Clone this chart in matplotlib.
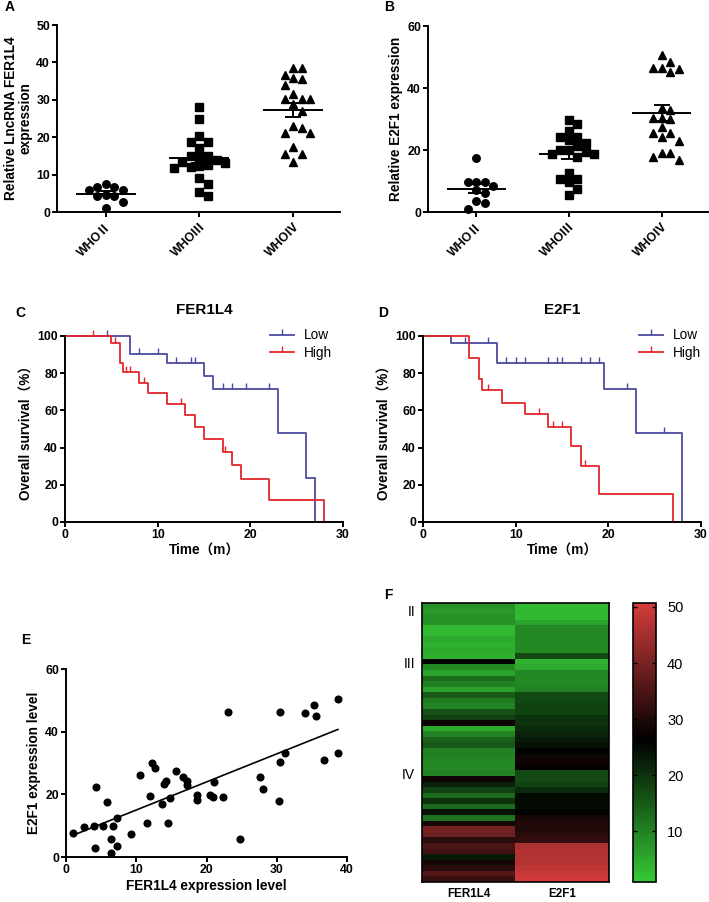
import numpy as np
import matplotlib
matplotlib.use('Agg')
import matplotlib.pyplot as plt
from matplotlib.colors import LinearSegmentedColormap
from matplotlib.lines import Line2D

plt.rcParams['font.family'] = ['Liberation Sans', 'Noto Sans CJK SC', 'DejaVu Sans']
plt.rcParams['axes.linewidth'] = 1.4

# ---- data -------------------------------------------------------------
groups = ['WHOⅡ', 'WHOⅢ', 'WHOⅣ']

fer_who2 = [6.6, 5.8, 7.4, 5.8, 6.6, 4.2, 4.6, 4.2, 1.0, 2.6]
fer_who3 = [28.2, 24.8, 20.4, 18.8, 18.8, 17.2, 15.0, 15.0, 14.5, 14.0,
            13.5, 13.0, 12.5, 12.2, 12.0, 11.8, 9.2, 7.4, 5.3, 4.2]
fer_who4 = [38.5, 38.5, 36.5, 35.7, 35.5, 34.0, 31.5, 30.3, 30.3, 30.3,
            29.0, 27.0, 23.0, 22.5, 21.0, 21.0, 17.5, 15.5, 15.5, 13.5]

e2f_who2 = [17.3, 9.8, 9.8, 9.6, 8.4, 7.0, 6.0, 3.5, 3.0, 0.9]
e2f_who3 = [29.8, 28.3, 26.1, 24.3, 24.3, 23.2, 22.4, 21.4, 20.0, 20.0,
            19.5, 18.7, 18.7, 17.8, 12.7, 10.8, 10.8, 9.8, 7.3, 5.5]
e2f_who4 = [50.5, 48.4, 46.5, 46.5, 46.0, 45.2, 33.4, 32.8, 30.4, 30.4,
            30.0, 27.5, 25.5, 25.5, 24.3, 23.0, 19.1, 19.1, 17.8, 16.7]

# Kaplan-Meier steps (time, survival %) and censor times
fer_low_t = [0, 7, 11, 15, 16, 23, 26, 27]
fer_low_s = [100, 90.5, 85.7, 78.5, 71.4, 47.6, 23.8, 0]
fer_low_c = [4.5, 8, 10, 12, 13.6, 14, 17, 18, 19.5, 22]
fer_high_t = [0, 5, 5.9, 6.3, 8, 9, 11, 13, 14, 15, 17, 18, 19, 22, 28]
fer_high_s = [100, 96, 85.3, 80.8, 74.6, 69.2, 63.3, 57.6, 51.0, 44.7,
              37.9, 30.4, 23.1, 11.6, 0]
fer_high_c = [3, 5.4, 6.6, 7, 8.5, 12.5, 17.3]

e2f_low_t = [0, 3, 8, 19.5, 23, 28]
e2f_low_s = [100, 96, 85.7, 71.4, 47.6, 0]
e2f_low_c = [4.5, 7, 9, 10, 11, 13.5, 14.5, 15, 17, 18, 19, 22, 26]
e2f_high_t = [0, 5, 6, 6.4, 8.5, 11, 13.5, 16, 17, 19, 27]
e2f_high_s = [100, 88.4, 76.7, 70.7, 64.2, 58.0, 51.0, 40.6, 30.2, 15.0, 0]
e2f_high_c = [7, 12.5, 14, 15, 17.5]

# FER1L4 vs E2F1 correlation
corr_fer = [0.95, 2.5, 4.0, 4.1, 4.3, 5.3, 5.9, 6.4, 6.4, 6.7, 7.3, 7.3, 9.2,
            10.5, 11.6, 12.0, 12.2, 12.7, 13.6, 13.9, 14.2, 14.5, 14.8, 15.6,
            16.6, 17.2, 17.2, 18.7, 18.7, 20.5, 20.9, 21.0, 22.4, 23.1, 24.7,
            27.6, 28.1, 30.3, 30.4, 30.4, 31.2, 34.0, 35.3, 35.6, 36.7, 38.7,
            38.7]
corr_e2f = [7.7, 9.6, 9.8, 3.0, 22.4, 10.0, 17.4, 5.9, 1.3, 9.8, 12.6, 3.5, 7.5,
            26.3, 10.9, 19.4, 29.9, 28.5, 16.9, 23.3, 24.3, 10.9, 18.7, 27.3,
            25.4, 24.3, 23.0, 19.8, 18.1, 19.8, 19.0, 24.0, 19.0, 46.4, 5.7,
            25.4, 21.7, 17.8, 30.4, 46.4, 33.3, 46.1, 48.6, 45.1, 31.0, 33.3,
            50.5]

# heatmap rows (WHO II: 10, WHO III: 20, WHO IV: 20)
grade_names = ['II', 'III', 'IV']
grade_sizes = [10, 20, 20]
heat_fer = [8, 7, 8, 8, 3, 3, 5, 4, 5, 4,
            26, 9, 6, 13, 10, 6, 15, 11, 10, 16,
            18, 28, 5, 10, 14, 15, 10, 10, 9, 9,
            10, 28, 22, 18, 13, 20, 13, 24, 12, 29,
            40, 39, 31, 35, 34, 23, 29, 31, 36, 33]
heat_e2f = [3, 3, 3, 6, 9, 9, 9, 9, 9, 17,
            4, 5, 9, 9, 9, 10, 17, 17, 18, 18,
            20, 20, 21, 22, 23, 24, 26, 28, 28, 27,
            17, 17, 18, 21, 25, 25, 25, 26, 29, 30,
            30, 31, 32, 46, 47, 47, 47, 48, 49, 50]
heat_cols = ['FER1L4', 'E2F1']

BLUE = '#4b4b9e'
RED = '#e3262b'
TICKFS = 8.8
LABFS = 9.8


def px(l, t, r, b):
    return [l / 709, 1 - b / 902, (r - l) / 709, (b - t) / 902]


def swarm(vals, y_px, gap=8.5, x_px=93.0):
    order = np.argsort(vals)[::-1]
    placed = []
    offs = np.zeros(len(vals))
    cands = [0]
    for k in range(1, 10):
        cands += [k * gap, -k * gap]
    for i in order:
        y = vals[i] * y_px
        for c in cands:
            if all((c - a) ** 2 + (y - b) ** 2 >= gap ** 2 for a, b in placed):
                break
        placed.append((c, y))
        offs[i] = c / x_px
    return offs


def style(ax):
    for s in ['top', 'right']:
        ax.spines[s].set_visible(False)
    ax.tick_params(direction='out', width=1.4, length=3.5, labelsize=TICKFS, pad=1.5)
    for lab in ax.get_xticklabels() + ax.get_yticklabels():
        lab.set_fontweight('bold')


def dotplot(ax, data, ymax, yticks, y_px):
    marks = ['o', 's', '^']
    sizes = [5.4, 5.2, 5.8]
    for i, vals in enumerate(data):
        vals = np.array(vals)
        xo = swarm(vals, y_px)
        ax.plot(i + xo, vals, marks[i], color='black', ms=sizes[i], clip_on=False)
        m = vals.mean()
        sem = vals.std(ddof=1) / np.sqrt(len(vals))
        ax.hlines(m, i - 0.32, i + 0.32, color='black', lw=1.4, zorder=3)
        ax.errorbar(i, m, yerr=sem, color='black', capsize=6, capthick=1.4,
                    elinewidth=1.4, zorder=3)
    ax.set_xlim(-0.52, 2.5)
    ax.set_ylim(0, ymax)
    ax.set_yticks(yticks)
    ax.set_xticks(range(3))
    ax.set_xticklabels(groups, rotation=45, ha='right', rotation_mode='anchor')
    style(ax)
    ax.tick_params(axis='x', pad=3)


def km(ax, title, curves):
    for t, s, c, col in curves:
        ax.step(t, s, where='post', color=col, lw=1.3, clip_on=False)
        t = np.array(t)
        cy = [s[np.searchsorted(t, v, side='right') - 1] for v in c]
        ax.plot(c, cy, ls='none', marker=2, ms=4.5, mew=1.0, color=col, clip_on=False)
    ax.set_xlim(0, 30)
    ax.set_ylim(0, 100)
    ax.set_xticks([0, 10, 20, 30])
    ax.set_yticks([0, 20, 40, 60, 80, 100])
    ax.set_xlabel('Time（m）', fontsize=LABFS, fontweight='bold', labelpad=2)
    ax.set_ylabel('Overall survival（%）', fontsize=LABFS, fontweight='bold', labelpad=3)
    ax.set_title(title, fontsize=11, fontweight='bold', pad=16)
    style(ax)


fig = plt.figure(figsize=(7.09, 9.02), dpi=100)

# ---- A ----
axA = fig.add_axes(px(57, 25, 340, 212))
dotplot(axA, [fer_who2, fer_who3, fer_who4], 50, [0, 10, 20, 30, 40, 50], 187 / 50)
axA.set_ylabel('Relative LncRNA FER1L4\nexpression', fontsize=LABFS,
               fontweight='bold', labelpad=3, linespacing=1.0)

# ---- B ----
axB = fig.add_axes(px(428, 26, 708, 212))
dotplot(axB, [e2f_who2, e2f_who3, e2f_who4], 60, [0, 20, 40, 60], 186 / 60)
axB.set_ylabel('Relative E2F1 expression', fontsize=LABFS, fontweight='bold', labelpad=3)

# ---- C ----
axC = fig.add_axes(px(65, 336, 343, 522))
km(axC, 'FER1L4', [(fer_low_t, fer_low_s, fer_low_c, BLUE),
                   (fer_high_t, fer_high_s, fer_high_c, RED)])

# ---- D ----
axD = fig.add_axes(px(423, 336, 701, 522))
km(axD, 'E2F1', [(e2f_low_t, e2f_low_s, e2f_low_c, BLUE),
                 (e2f_high_t, e2f_high_s, e2f_high_c, RED)])

handles = [Line2D([], [], color=BLUE, lw=1.3, marker=2, ms=4.5, mew=1.0),
           Line2D([], [], color=RED, lw=1.3, marker=2, ms=4.5, mew=1.0)]
for ax, anchor in [(axC, (0.98, 1.07)), (axD, (1.02, 1.07))]:
    ax.legend(handles, ['Low', 'High'], loc='upper right', bbox_to_anchor=anchor,
              frameon=False, fontsize=9.8, handlelength=1.8, handletextpad=0.7,
              labelspacing=0.25, borderaxespad=0)

# ---- E ----
axE = fig.add_axes(px(66, 669, 347, 857))
axE.plot(corr_fer, corr_e2f, 'o', color='black', ms=4.8, clip_on=False)
k, b0 = np.polyfit(corr_fer, corr_e2f, 1)
xx = np.array([min(corr_fer), max(corr_fer)])
axE.plot(xx, k * xx + b0, color='black', lw=1.2)
axE.set_xlim(0, 40)
axE.set_ylim(0, 60)
axE.set_xticks([0, 10, 20, 30, 40])
axE.set_yticks([0, 20, 40, 60])
axE.set_xlabel('FER1L4 expression level', fontsize=LABFS, fontweight='bold', labelpad=2)
axE.set_ylabel('E2F1 expression level', fontsize=LABFS, fontweight='bold', labelpad=3)
style(axE)

# ---- F ----
cmap = LinearSegmentedColormap.from_list(
    'gkr', [(0, '#36c936'), (0.51, '#000000'), (1, '#d43c3c')])
axF = fig.add_axes(px(422, 603, 609, 882))
heat = np.column_stack([heat_fer, heat_e2f])
im = axF.imshow(heat, cmap=cmap, vmin=1, vmax=50.7, aspect='auto',
                interpolation='nearest')
axF.set_xticks(range(len(heat_cols)))
axF.set_xticklabels(heat_cols, fontsize=8.4, fontweight='bold')
starts = np.cumsum([0] + grade_sizes[:-1]) + 0.1
starts[0] = 0.8
axF.set_yticks(starts)
axF.set_yticklabels(grade_names, fontsize=10)
axF.tick_params(length=0, pad=5)
axF.tick_params(axis='x', pad=4)
for s in axF.spines.values():
    s.set_linewidth(1.2)

cax = fig.add_axes(px(633, 603, 656, 882))
cb = fig.colorbar(im, cax=cax)
cb.set_ticks([10, 20, 30, 40, 50])
cb.outline.set_linewidth(1.2)
cax.tick_params(direction='in', left=True, right=True, length=3, width=1,
                labelsize=10.5, pad=8)

# ---- panel letters ----
for lab, x, y in [('A', 10, 7), ('B', 389, 7), ('C', 20, 313), ('D', 383, 313),
                  ('E', 26, 640), ('F', 388, 595)]:
    fig.text(x / 709, 1 - y / 902, lab, fontsize=10, fontweight='bold',
             ha='center', va='center')

fig.savefig('out.png', dpi=100)
